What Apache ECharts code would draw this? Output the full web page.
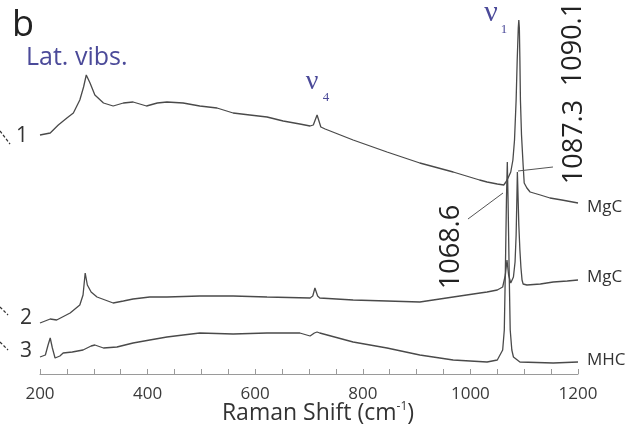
<!DOCTYPE html>
<html>
<head>
<meta charset="utf-8">
<script src="https://cdn.jsdelivr.net/npm/echarts@6/dist/echarts.min.js"></script>
<style>html,body{margin:0;padding:0;background:#fff}#c{width:637px;height:432px}</style>
</head>
<body>
<div id="c"></div>
<script>
// Raman shift (cm-1) and relative intensity (a.u.)
var trace1X = [200,219,234,250,262,274,281,286,293,302,318,336,355,373,398,418,436,466,497,529,559,590,622,652,683,702,708,715,722,730,782,845,906,968,1017,1031,1050,1062,1066,1070,1075,1079,1082,1085,1087,1089,1090,1091,1092,1093,1095,1098,1100,1105,1111,1130,1148,1170,1200];
var trace1Y = [239,241,249,256,261,274,287,299,291,279,271,268,271,272,268,271,272,271,268,266,261,259,257,253,250,248,249,259,247,245,234,222,211,202,194,192,190,189,192,196,202,214,234,274,314,346,354,346,314,274,239,209,191,186,182,179,176,174,171];

var trace2X = [200,219,231,256,274,280,284,288,295,306,336,355,373,404,436,497,559,622,702,707,711,716,720,782,845,906,968,1018,1031,1050,1060,1065,1068,1071,1075,1080,1083,1085,1086.5,1087.3,1088,1090,1092,1094,1096,1098,1105,1130,1154,1180,1200];
var trace2Y = [51,55,54,61,69,79,101,89,82,77,71,73,75,77,77,78,78,77,76,78,86,78,76,74,73,72,77,81,82,84,87,99,114,99,91,97,112,139,179,202,189,149,124,106,94,90,89,90,92,93,94];

var trace3X = [200,210,215,219,223,228,231,237,243,260,280,295,302,318,343,373,404,436,466,497,559,622,683,702,710,715,720,782,845,906,968,1031,1050,1060,1063,1065,1067,1068.6,1070,1072,1074,1077,1080,1092,1154,1200];
var trace3Y = [17,19,29,36,26,16,14,18,21,22,24,28,29,26,27,31,34,37,39,41,40,41,41,38,41,42,41,32,26,19,14,12,14,24,44,104,174,212,174,104,44,24,17,12,11,12];

var seriesNames = ['MgC','MgC','MHC'];
var traceNumbers = ['1','2','3'];
var peakLabels = ['1090.1','1087.3','1068.6'];
var axisTitle = 'Raman Shift (cm';

function pairs(xs, ys){ var out=[]; for(var i=0;i<xs.length;i++) out.push([xs[i], ys[i]]); return out; }

var chart = echarts.init(document.getElementById('c'), null, {renderer:'canvas'});
var lineStyle = {color:'#4a4a4a', width:1.3};
var leader = {color:'#555', width:1, type:'solid'};
var FONT = '"Open Sans", "Noto Sans", sans-serif';
var SERIF = '"Liberation Serif", serif';
var PURPLE = '#4b4a99';

function mk(name, xs, ys, off, marks){
  var s = {
    type:'line', name:name, data:pairs(xs,ys), showSymbol:false, symbol:'none',
    lineStyle:lineStyle, silent:true, animation:false,
    endLabel:{show:true, formatter:function(p){return p.seriesName;}, distance:9, offset:[0,off],
      color:'#333', fontSize:17, fontFamily:FONT}
  };
  if (marks) s.markLine = {silent:true, symbol:'none', animation:false, label:{show:false}, lineStyle:leader, data:marks};
  return s;
}

var option = {
  animation:false,
  backgroundColor:'#fff',
  grid:{left:40, right:59, top:14, bottom:58},
  xAxis:{type:'value', min:200, max:1200, interval:200,
    axisLine:{show:true, lineStyle:{color:'#9a9a9a', width:1}},
    axisTick:{show:true, inside:true, length:5, lineStyle:{color:'#9a9a9a'}},
    minorTick:{show:true, splitNumber:4, length:5, lineStyle:{color:'#9a9a9a'}},
    splitLine:{show:false}, minorSplitLine:{show:false},
    axisLabel:{color:'#3a3a3a', fontSize:17, fontFamily:FONT, margin:12, formatter:function(v){return String(v);}}
  },
  yAxis:{type:'value', min:0, max:360, show:false, splitLine:{show:false}},
  series:[
    mk(seriesNames[0], trace1X, trace1Y, 4, [
      [{coord:[1090.3,355]},{coord:[1157,361]}]
    ]),
    mk(seriesNames[1], trace2X, trace2Y, -3, [
      [{coord:[1088.5,203]},{coord:[1153.5,207]}]
    ]),
    mk(seriesNames[2], trace3X, trace3Y, -2, [
      [{coord:[995.5,155]},{coord:[1060.6,181]}]
    ])
  ],
  graphic:[
    {type:'text', x:23, y:26, style:{text:'b', fontSize:36, fontFamily:FONT, fill:'#222', align:'center', verticalAlign:'middle'}},
    {type:'text', x:26, y:58, style:{text:'Lat. vibs.', fontSize:25, fontFamily:FONT, fill:PURPLE, align:'left', verticalAlign:'middle'}},
    {type:'text', x:312, y:82, style:{text:'ν', fontSize:28, fontFamily:SERIF, fill:PURPLE, align:'center', verticalAlign:'middle'}},
    {type:'text', x:326, y:98, style:{text:'4', fontSize:13, fontFamily:SERIF, fill:PURPLE, align:'center', verticalAlign:'middle'}},
    {type:'text', x:491, y:13, style:{text:'ν', fontSize:30, fontFamily:SERIF, fill:PURPLE, align:'center', verticalAlign:'middle'}},
    {type:'text', x:504, y:30, style:{text:'1', fontSize:13, fontFamily:SERIF, fill:PURPLE, align:'center', verticalAlign:'middle'}},
    {type:'text', x:573, y:44, rotation:Math.PI/2, style:{text:peakLabels[0], fontSize:27, fontFamily:FONT, fill:'#222', align:'center', verticalAlign:'middle'}},
    {type:'text', x:574, y:142, rotation:Math.PI/2, style:{text:peakLabels[1], fontSize:27, fontFamily:FONT, fill:'#222', align:'center', verticalAlign:'middle'}},
    {type:'text', x:451, y:247, rotation:Math.PI/2, style:{text:peakLabels[2], fontSize:27, fontFamily:FONT, fill:'#222', align:'center', verticalAlign:'middle'}},
    {type:'text', x:22, y:136, style:{text:traceNumbers[0], fontSize:21, fontFamily:FONT, fill:'#333', align:'center', verticalAlign:'middle'}},
    {type:'text', x:26, y:318, style:{text:traceNumbers[1], fontSize:21, fontFamily:FONT, fill:'#333', align:'center', verticalAlign:'middle'}},
    {type:'text', x:26, y:351, style:{text:traceNumbers[2], fontSize:21, fontFamily:FONT, fill:'#333', align:'center', verticalAlign:'middle'}},
    {type:'line', shape:{x1:0,y1:131,x2:10,y2:144}, style:{stroke:'#333', lineWidth:1.3, lineDash:[3,2]}},
    {type:'line', shape:{x1:0,y1:307,x2:8,y2:315}, style:{stroke:'#333', lineWidth:1.3, lineDash:[3,2]}},
    {type:'line', shape:{x1:0,y1:342,x2:8,y2:350}, style:{stroke:'#333', lineWidth:1.3, lineDash:[3,2]}},
    {type:'text', x:318, y:412, style:{
      text:'{a|'+axisTitle+'}{s|-1}{a|)}', align:'center', verticalAlign:'middle',
      rich:{
        a:{fontSize:23, fontFamily:FONT, fill:'#333', lineHeight:26, verticalAlign:'bottom'},
        s:{fontSize:12, fontFamily:FONT, fill:'#333', lineHeight:26, verticalAlign:'top', padding:[2,0,0,0]}
      }}}
  ]
};
chart.setOption(option);
</script>
</body>
</html>
